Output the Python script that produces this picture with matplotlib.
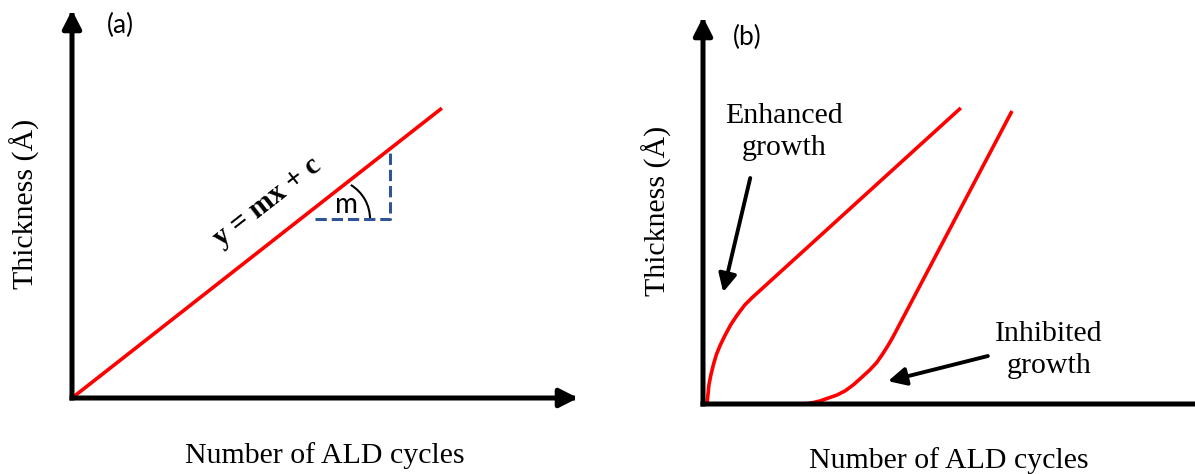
'''
Schematic of film thickness against number of ALD cycles:
(a) ideal linear growth, (b) enhanced and inhibited nucleation.
'''
import matplotlib
matplotlib.use('Agg')
import matplotlib.pyplot as plt
from matplotlib.patches import Arc

SERIF = 'Liberation Serif'
SANS = 'Lato'
CURVE_RED = '#ff0000'
SLOPE_BLUE = '#2f5597'
AXIS_LW = 3.6
CURVE_LW = 2.6

# (a) linear growth, y = mx + c
linear_cycles = [0, 73.1]
linear_thickness = [0, 74.7]
slope_cycles = [48.0, 62.8, 62.8]
slope_thickness = [46.1, 46.1, 63.1]

# (b) growth with enhanced / inhibited nucleation
enhanced_cycles = [0.8, 1.0, 1.2, 1.6, 2.1, 2.7, 3.5, 4.5, 5.6, 6.9, 8.5,
                   10.0, 52.4]
enhanced_thickness = [0, 2.3, 4.9, 7.5, 10.1, 12.7, 15.2, 17.8, 20.4, 22.9,
                      25.6, 27.5, 76.5]
inhibited_cycles = [20.5, 22.2, 23.8, 25.6, 27.2, 28.9, 30.5, 32.1, 33.9,
                    35.3, 36.5, 37.6, 38.6, 62.8]
inhibited_thickness = [0, 0.3, 0.8, 1.6, 2.3, 3.4, 4.9, 6.7, 8.8, 10.7, 12.9,
                       15.1, 17.3, 75.7]

AXIS_LABEL_X = 'Number of ALD cycles'
AXIS_LABEL_Y = 'Thickness (Å)'


def axis_arrow(ax, start, end, head=True):
    style = '-|>,head_length=0.55,head_width=0.28' if head else '-'
    ax.annotate('', xy=end, xytext=start, annotation_clip=False,
                arrowprops=dict(arrowstyle=style, color='black', lw=AXIS_LW,
                                mutation_scale=20, shrinkA=0, shrinkB=0,
                                capstyle='projecting'))


def pointer(ax, start, end):
    ax.annotate('', xy=end, xytext=start, annotation_clip=False,
                arrowprops=dict(arrowstyle='-|>,head_length=0.6,head_width=0.3',
                                color='black', lw=2.8, mutation_scale=18,
                                shrinkA=0, shrinkB=0))


def setup_axes(ax, x_arrow=True):
    ax.set_xlim(0, 100)
    ax.set_ylim(0, 100)
    ax.axis('off')
    axis_arrow(ax, (0, 0), (0, 100))
    axis_arrow(ax, (0, 0), (100, 0), head=x_arrow)
    ax.text(50, -14.7, AXIS_LABEL_X, family=SERIF, fontsize=21.5,
            ha='center', va='center')
    ax.text(-9.4, 50, AXIS_LABEL_Y, family=SERIF, fontsize=21.5,
            rotation=90, ha='center', va='center')


fig = plt.figure(figsize=(11.95, 4.74), dpi=100)

# panel (a)
ax_a = fig.add_axes([72 / 1195, 76 / 474, 506 / 1195, 388 / 474])
setup_axes(ax_a)
ax_a.plot(linear_cycles, linear_thickness, color=CURVE_RED, lw=CURVE_LW,
          solid_capstyle='butt', clip_on=False)
ax_a.plot(slope_cycles, slope_thickness, color=SLOPE_BLUE, lw=2.2, ls='--')
ax_a.add_patch(Arc((51.0, 46.1), 15.8, 20.6, theta1=0, theta2=65,
                   color='black', lw=1.5))
ax_a.text(54.3, 49.7, 'm', family=SANS, fontsize=20, ha='center', va='center')
ax_a.text(38.5, 50.5, 'y = mx + c', family=SERIF, fontweight='bold',
          fontsize=21, rotation=38, ha='center', va='center')
ax_a.text(9.5, 96.1, '(a)', family=SANS, fontsize=19, ha='center', va='center')

# panel (b)
ax_b = fig.add_axes([703 / 1195, 70 / 474, 492 / 1195, 387 / 474])
setup_axes(ax_b, x_arrow=False)
ax_b.plot(enhanced_cycles, enhanced_thickness, color=CURVE_RED, lw=CURVE_LW,
          solid_capstyle='butt')
ax_b.plot(inhibited_cycles, inhibited_thickness, color=CURVE_RED, lw=CURVE_LW,
          solid_capstyle='butt')
ax_b.text(16.5, 70.3, 'Enhanced\ngrowth', family=SERIF, fontsize=21.5,
          ha='center', va='center', linespacing=1.3)
ax_b.text(70.3, 14.0, 'Inhibited\ngrowth', family=SERIF, fontsize=21.5,
          ha='center', va='center', linespacing=1.3)
pointer(ax_b, (9.6, 58.4), (4.1, 28.9))
pointer(ax_b, (57.9, 12.4), (37.6, 5.9))
ax_b.text(8.9, 94.6, '(b)', family=SANS, fontsize=19, ha='center', va='center')

fig.savefig('out.png', dpi=100)
